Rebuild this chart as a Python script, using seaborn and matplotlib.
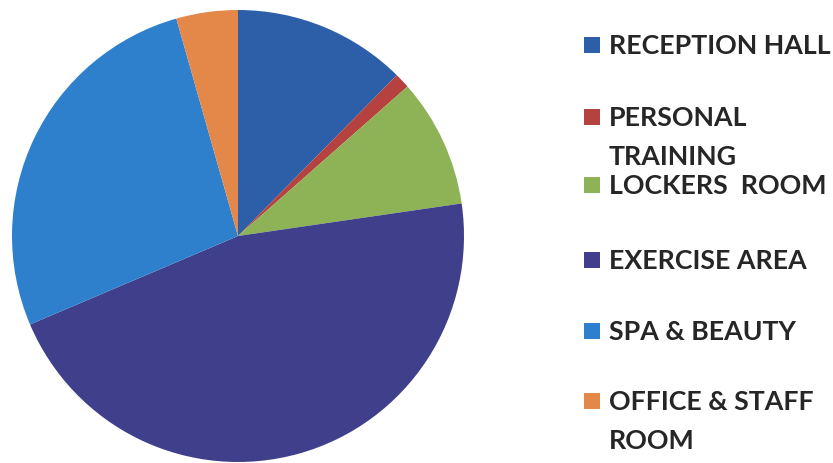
import matplotlib
matplotlib.use("Agg")
import matplotlib.pyplot as plt
import seaborn as sns
from matplotlib.patches import Rectangle

categories = ["RECEPTION HALL", "PERSONAL\nTRAINING", "LOCKERS  ROOM",
              "EXERCISE AREA", "SPA & BEAUTY", "OFFICE & STAFF\nROOM"]
values = [12.4, 1.1, 9.2, 45.9, 27.0, 4.4]
colors = ["#2c5fa8", "#b5423f", "#8db356", "#403f8c", "#2f80cc", "#e4884a"]

sns.set_theme(style="white")
plt.rcParams['font.family'] = ['Lato', 'DejaVu Sans']

W, H = 833, 464
fig = plt.figure(figsize=(W / 100, H / 100), dpi=100)
fig.patch.set_facecolor("white")

cx, cy, r = 238, 237, 226
ax = fig.add_axes([(cx - r) / W, (H - cy - r) / H, 2 * r / W, 2 * r / H])
pal = sns.color_palette(colors)
ax.pie(values, colors=pal, startangle=90, counterclock=False,
       wedgeprops=dict(linewidth=0))
ax.set_xlim(-1, 1)
ax.set_ylim(-1, 1)
ax.set_aspect("equal")
ax.axis("off")

# legend rows (first-line y center in px from top)
row_y = [46, 118, 186, 261, 332, 402]
line_gap = 39
for lab, col, y in zip(categories, pal, row_y):
    sq = 16
    fig.add_artist(Rectangle(((584) / W, (H - y - sq / 2) / H), sq / W, sq / H,
                             transform=fig.transFigure, color=col, lw=0))
    for i, part in enumerate(lab.split("\n")):
        fig.text(609 / W, (H - y - i * line_gap) / H, part, fontsize=19.3,
                 fontweight="bold", color="#262626", va="center", ha="left")

fig.savefig("out.png", dpi=100)
